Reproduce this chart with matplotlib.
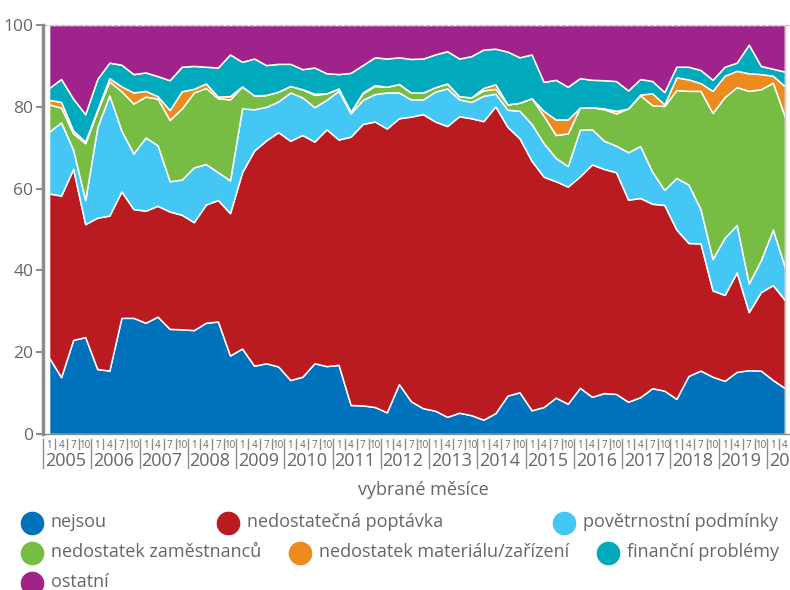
import matplotlib.pyplot as plt
import matplotlib.transforms as mtransforms
import numpy as np
from matplotlib.lines import Line2D

plt.rcParams['font.family'] = ['Open Sans', 'DejaVu Sans']

# ── Data (shares in %, quarterly: months 1/4/7/10, 2005-01 .. 2020-04) ──────
MONTHS = ["1", "4", "7", "10"] * 15 + ["1", "4"]
YEARS = [str(y) for y in range(2005, 2021)]

nejsou = [18.7, 13.9, 23.0, 23.7, 15.9, 15.5, 28.4, 28.4, 27.2, 28.7, 25.7, 25.6, 25.4, 27.2, 27.5, 19.2, 20.9, 16.7,
          17.3, 16.5, 13.2, 14.0, 17.3, 16.6, 16.9, 7.1, 7.0, 6.6, 5.3, 12.2, 8.0, 6.3, 5.7, 4.2, 5.2, 4.6, 3.5, 5.1, 9.4, 10.2, 5.8,
          6.6, 8.9, 7.4, 11.3, 9.1, 10.0, 9.8, 7.9, 9.0, 11.2, 10.6, 8.6, 14.2, 15.5, 14.0, 13.0, 15.2, 15.6, 15.5, 13.2, 11.2]
poptavka = [40.1, 44.4, 41.8, 27.6, 37.0, 37.9, 30.9, 26.6, 27.4, 27.1, 28.7, 28.0, 26.4, 28.9, 29.7, 34.8, 43.1, 52.6,
            54.5, 57.3, 58.5, 59.1, 54.2, 57.9, 55.1, 65.6, 68.8, 69.8, 69.4, 65.0, 69.6, 71.9, 70.7, 71.1, 72.5, 72.6, 73.0, 75.0, 65.7, 62.1, 61.0,
            56.3, 52.9, 53.1, 51.7, 56.8, 54.8, 54.2, 49.4, 48.7, 45.1, 45.4, 41.4, 32.5, 31.1, 21.1, 21.0, 24.3, 14.2, 19.2, 23.2, 21.5]
pocasi = [15.1, 17.9, 4.7, 5.9, 22.1, 29.4, 14.9, 13.6, 17.9, 14.8, 7.4, 8.6, 13.4, 9.9, 6.8, 8.0, 15.6, 10.1,
          8.2, 7.5, 11.8, 9.2, 8.4, 7.2, 11.9, 5.7, 5.9, 6.7, 8.8, 6.3, 4.2, 3.6, 7.3, 9.2, 4.1, 4.0, 6.2, 3.1, 4.2, 6.7, 9.0,
          8.2, 5.7, 5.0, 11.4, 8.6, 6.9, 6.5, 11.6, 12.7, 7.8, 3.7, 12.6, 14.3, 8.4, 7.7, 14.0, 11.6, 7.0, 7.8, 13.6, 8.0]
zamestnanci = [6.7, 3.6, 4.0, 13.9, 4.0, 3.4, 9.6, 12.2, 10.0, 11.4, 15.0, 17.4, 18.3, 18.6, 18.1, 19.8, 5.4, 3.4,
               2.9, 2.4, 1.6, 2.0, 3.0, 1.6, 0.6, 0.4, 1.6, 2.0, 1.4, 2.1, 1.7, 1.7, 1.1, 1.2, 0.8, 1.1, 1.3, 1.2, 1.3, 2.0, 6.3,
               6.7, 5.6, 8.0, 5.4, 5.4, 7.7, 7.9, 10.7, 12.4, 16.3, 20.5, 21.5, 22.9, 28.9, 35.7, 34.4, 33.7, 47.1, 41.8, 35.9, 36.8]
material = [1.1, 1.4, 0.7, 0.4, 0.3, 0.8, 1.2, 2.7, 1.4, 0.6, 2.4, 4.2, 0.9, 1.1, 0.4, 0.8, 0.0, 0.0,
            0.0, 0.0, 0.0, 0.0, 0.3, 0.0, 0.0, 0.0, 0.2, 0.2, 0.0, 0.0, 0.0, 0.0, 0.0, 0.0, 0.0, 0.0, 0.6, 1.1, 0.0, 0.0, 0.0,
            1.2, 3.8, 3.4, 0.0, 0.0, 0.2, 0.6, 0.0, 0.2, 2.9, 0.4, 3.1, 2.8, 1.9, 5.4, 5.2, 4.0, 4.3, 3.7, 1.7, 7.5]
financni = [2.9, 5.6, 7.8, 6.7, 7.5, 3.8, 5.3, 4.5, 4.5, 4.9, 7.3, 6.0, 5.6, 4.1, 7.1, 10.2, 6.0, 9.0,
            7.3, 6.8, 5.4, 4.9, 6.4, 4.9, 3.5, 9.5, 6.7, 6.8, 6.9, 6.5, 8.2, 8.3, 8.0, 7.9, 9.2, 10.1, 9.4, 8.7, 12.9, 11.1, 10.7,
            7.1, 9.7, 8.0, 7.2, 6.7, 6.9, 7.3, 4.4, 3.8, 3.0, 3.0, 2.6, 3.1, 3.2, 2.7, 2.2, 2.0, 7.0, 2.0, 1.7, 3.6]
ostatni = [15.4, 13.2, 18.0, 21.8, 13.2, 9.2, 9.7, 12.0, 11.6, 12.5, 13.5, 10.2, 10.0, 10.2, 10.4, 7.2, 9.0, 8.2,
           9.8, 9.5, 9.5, 10.8, 10.4, 11.8, 12.0, 11.7, 9.8, 7.9, 8.2, 7.9, 8.3, 8.2, 7.2, 6.4, 8.2, 7.6, 6.0, 5.8, 6.5, 7.9, 7.2,
           13.9, 13.4, 15.1, 13.0, 13.4, 13.5, 13.7, 16.0, 13.2, 13.7, 16.4, 10.2, 10.2, 11.0, 13.4, 10.2, 9.2, 4.8, 10.0, 10.7, 11.4]

LABELS = ["nejsou", "nedostatečná poptávka", "povětrnostní podmínky",
          "nedostatek zaměstnanců", "nedostatek materiálu/zařízení",
          "finanční problémy", "ostatní"]
COLORS = ["#0071BB", "#B91B21", "#44C7F4", "#77BD44", "#EE8B1E", "#01A9BC", "#A0238B"]

GRAY = "#666666"
AXIS = "#8c8c8c"

# ── Figure ──────────────────────────────────────────────────────────────────
W, H = 790, 590
fig = plt.figure(figsize=(W / 100, H / 100), dpi=100)
ax = fig.add_axes([43 / W, (H - 434) / H, 748 / W, 409 / H])

x = np.arange(len(MONTHS))
ax.stackplot(x, nejsou, poptavka, pocasi, zamestnanci, material, financni, ostatni,
             colors=COLORS, edgecolor="white", linewidth=1.1)

ax.set_xlim(-0.5, 61.5)
ax.set_ylim(0, 100)

for side in ["top", "right"]:
    ax.spines[side].set_visible(False)
ax.spines["left"].set_color(AXIS)
ax.spines["left"].set_linewidth(2.5)
ax.spines["bottom"].set_color(AXIS)
ax.spines["bottom"].set_linewidth(1)

ax.axhline(100, color="#bbbbbb", lw=0.8, ls="--", clip_on=False)
ax.axvline(61, color="#cccccc", lw=1)

ax.set_yticks([0, 20, 40, 60, 80, 100])
ax.tick_params(axis="y", length=5, width=1.5, color=AXIS, labelsize=12.5,
               labelcolor=GRAY, pad=2)

ax.set_xticks(x, MONTHS)
ax.tick_params(axis="x", length=0, labelsize=7, labelcolor=GRAY, pad=4)

# separators between months and years, year labels below
trans = mtransforms.blended_transform_factory(ax.transData, ax.transAxes)
px = 1 / 409
for k in range(len(MONTHS) + 1):
    y_end = -34 * px if k % 4 == 0 else -15 * px
    ax.add_line(Line2D([k - 0.5, k - 0.5], [-5 * px, y_end], transform=trans,
                       color=AXIS, lw=1, clip_on=False))
for j, yr in enumerate(YEARS):
    ax.text(4 * j - 0.5 + 0.15, -27 * px, yr, transform=trans, ha="left", va="center",
            fontsize=13, color=GRAY, clip_on=False)

fig.text(423 / W, 1 - 490 / H, "vybrané měsíce", ha="center", va="center",
         fontsize=13, color=GRAY)

# legend laid out in flowing rows like the original
legend_pos = [(32, 523), (228, 523), (564, 523),
              (32, 553), (300, 553), (608, 553),
              (32, 583)]
for (cx, cy), lab, col in zip(legend_pos, LABELS, COLORS):
    fig.add_artist(Line2D([cx / W], [1 - cy / H], marker="o", markersize=16,
                          color=col, transform=fig.transFigure, lw=0))
    fig.text((cx + 19) / W, 1 - (cy - 1) / H, lab, ha="left", va="center",
             fontsize=13, color=GRAY)

fig.savefig("out.png", dpi=100)
